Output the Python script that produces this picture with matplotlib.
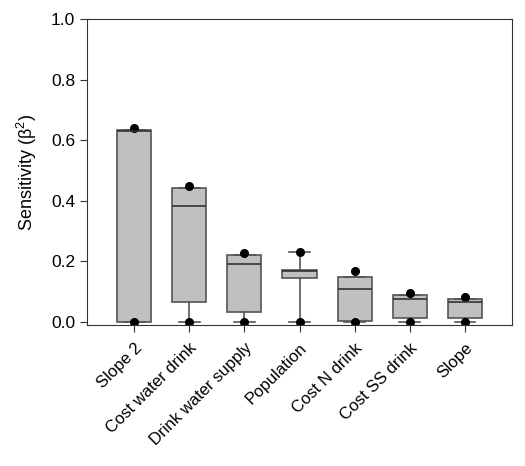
import matplotlib
matplotlib.use('Agg')
import matplotlib.pyplot as plt

# Данные
categories = ['Slope 2', 'Cost water drink', 'Drink water supply', 'Population',
              'Cost N drink', 'Cost SS drink', 'Slope']
q1 = [0.0, 0.066, 0.033, 0.144, 0.002, 0.013, 0.011]
med = [0.630, 0.383, 0.190, 0.166, 0.107, 0.075, 0.066]
q3 = [0.635, 0.442, 0.220, 0.171, 0.147, 0.088, 0.075]
whis_lo = [0.0, 0.0, 0.0, 0.0, 0.0, 0.0, 0.0]
whis_hi = [0.635, 0.442, 0.220, 0.230, 0.147, 0.088, 0.075]
pt_min = [0.0, 0.0, 0.0, 0.0, 0.0, 0.0, 0.0]
pt_max = [0.640, 0.450, 0.228, 0.230, 0.167, 0.095, 0.080]

plt.rcParams['font.family'] = ['Liberation Sans', 'DejaVu Sans']

stats = []
for i in range(len(categories)):
    stats.append({'med': med[i], 'q1': q1[i], 'q3': q3[i],
                  'whislo': whis_lo[i], 'whishi': whis_hi[i],
                  'fliers': [pt_min[i], pt_max[i]]})

fig = plt.figure(figsize=(5.25, 4.66), dpi=100)
ax = fig.add_axes([0.166, 0.3026, 0.809, 0.6564])

edge = '#555555'
ax.bxp(stats, positions=range(1, 8), widths=0.62, patch_artist=True,
       showfliers=True, capwidths=0.38,
       boxprops=dict(facecolor='#c0c0c0', edgecolor=edge, linewidth=1.2),
       medianprops=dict(color='#333333', linewidth=1.2),
       whiskerprops=dict(color=edge, linewidth=1.2),
       capprops=dict(color=edge, linewidth=1.2),
       flierprops=dict(marker='o', markerfacecolor='black', markeredgecolor='black',
                       markersize=5.5))

ax.set_xlim(0.15, 7.85)
ax.set_ylim(-0.011, 1.0)
ax.set_yticks([0.0, 0.2, 0.4, 0.6, 0.8, 1.0])
ax.set_yticklabels(['0.0', '0.2', '0.4', '0.6', '0.8', '1.0'])
ax.set_xticks(range(1, 8))
ax.set_xticklabels(categories, rotation=45, ha='right', rotation_mode='anchor')
ax.tick_params(axis='both', direction='out', length=5, color='#333333',
               labelcolor='black')
ax.tick_params(axis='y', labelsize=12.5)
ax.tick_params(axis='x', labelsize=12, pad=6)
for s in ax.spines.values():
    s.set_color('#333333')
ax.set_ylabel('Sensitivity ($\\mathregular{\\beta^2}$)', fontsize=13, labelpad=9)

plt.savefig('out.png', dpi=100)
